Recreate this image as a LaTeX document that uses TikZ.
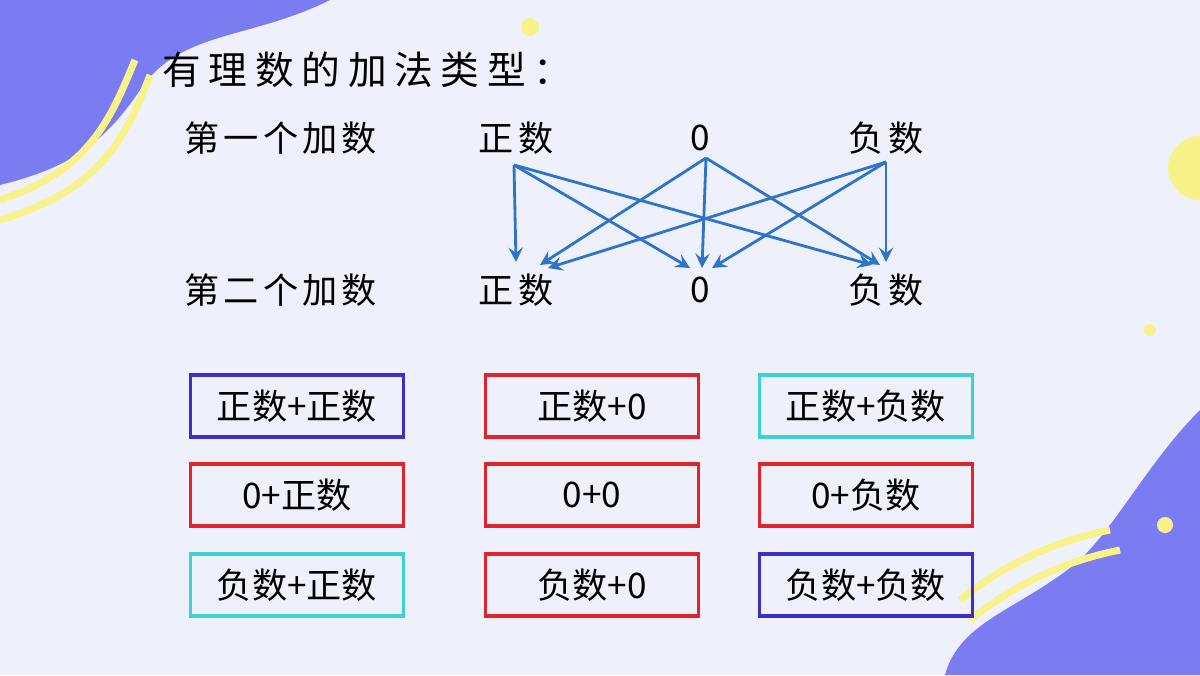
\documentclass[tikz,border=0pt]{standalone}
\usepackage{fontspec}
\setmainfont{Noto Sans CJK SC}
\usetikzlibrary{positioning}
\definecolor{bgc}{HTML}{EEF0FC}
\definecolor{blob}{HTML}{7B7CF2}
\definecolor{yel}{HTML}{F8F28A}
\definecolor{arr}{HTML}{2E75C8}
\definecolor{bpur}{HTML}{3A2FC8}
\definecolor{bred}{HTML}{E0242A}
\definecolor{bcya}{HTML}{3CD0D8}
\tikzset{
  lbl/.style={font=\fontsize{10pt}{12pt}\selectfont\addfontfeature{LetterSpace=12}},
  cell/.style={draw,line width=1pt,minimum width=2.13cm,minimum height=0.62cm,
    font=\fontsize{10pt}{12pt}\selectfont},
  link/.style={->,arr,line width=0.8pt,>=stealth}
}
\begin{document}
\begin{tikzpicture}[x=0.01cm,y=-0.01cm]
\fill[bgc] (0,0) rectangle (1200,675);
\useasboundingbox (0,0) rectangle (1200,675);
% decoration
\fill[blob] (0,0) -- (330,0) .. controls (250,40) and (180,30) .. (140,90)
  .. controls (100,150) and (60,170) .. (0,185) -- cycle;
\draw[yel,line width=2pt] (0,200) .. controls (90,170) and (110,120) .. (135,60);
\draw[yel,line width=2pt] (0,220) .. controls (100,190) and (125,140) .. (150,75);
\fill[blob] (1200,410) .. controls (1150,460) and (1120,520) .. (1080,560)
  .. controls (1020,610) and (960,620) .. (945,675) -- (1200,675) -- cycle;
\draw[yel,line width=2pt] (960,600) .. controls (1010,560) and (1060,540) .. (1110,530);
\draw[yel,line width=2pt] (970,620) .. controls (1020,580) and (1070,560) .. (1120,550);
\fill[yel] (1200,168) circle (32);
\fill[yel] (530,27) circle (9);
\fill[yel] (1150,330) circle (6);
\fill[yel] (1165,525) circle (8);
% labels
\node[anchor=west,font=\fontsize{11pt}{13pt}\selectfont\addfontfeature{LetterSpace=20}] (title) at (150,70) {有理数的加法类型：};
\node[lbl,anchor=west] (first) at (172,138) {第一个加数};
\node[lbl,anchor=west] (second) at (172,290) {第二个加数};
\node[lbl] (p1) at (516,138) {正数};
\node[lbl] (z1) at (700,138) {0};
\node[lbl] (n1) at (886,138) {负数};
\node[lbl] (p2) at (516,290) {正数};
\node[lbl] (z2) at (700,290) {0};
\node[lbl] (n2) at (886,290) {负数};
% arrows
\coordinate (a) at (514,165); \coordinate (b) at (706,158); \coordinate (c) at (886,162);
\draw[link] (a) -- (516,262);
\draw[link] (a) -- (690,268);
\draw[link] (a) -- (872,265);
\draw[link] (b) -- (540,265);
\draw[link] (b) -- (702,268);
\draw[link] (b) -- (880,265);
\draw[link] (c) -- (548,268);
\draw[link] (c) -- (712,268);
\draw[link] (c) -- (886,262);
% boxes
\node[cell,bpur] (pp) at (297,406) {\textcolor{black}{正数+正数}};
\node[cell,bred] (pz) at (592,406) {\textcolor{black}{正数+0}};
\node[cell,bcya] (pn) at (866,406) {\textcolor{black}{正数+负数}};
\node[cell,bred] (zp) at (297,495) {\textcolor{black}{0+正数}};
\node[cell,bred] (zz) at (592,495) {\textcolor{black}{0+0}};
\node[cell,bred] (zn) at (866,495) {\textcolor{black}{0+负数}};
\node[cell,bcya] (np) at (297,585) {\textcolor{black}{负数+正数}};
\node[cell,bred] (nz) at (592,585) {\textcolor{black}{负数+0}};
\node[cell,bpur] (nn) at (866,585) {\textcolor{black}{负数+负数}};
\end{tikzpicture}
\end{document}
